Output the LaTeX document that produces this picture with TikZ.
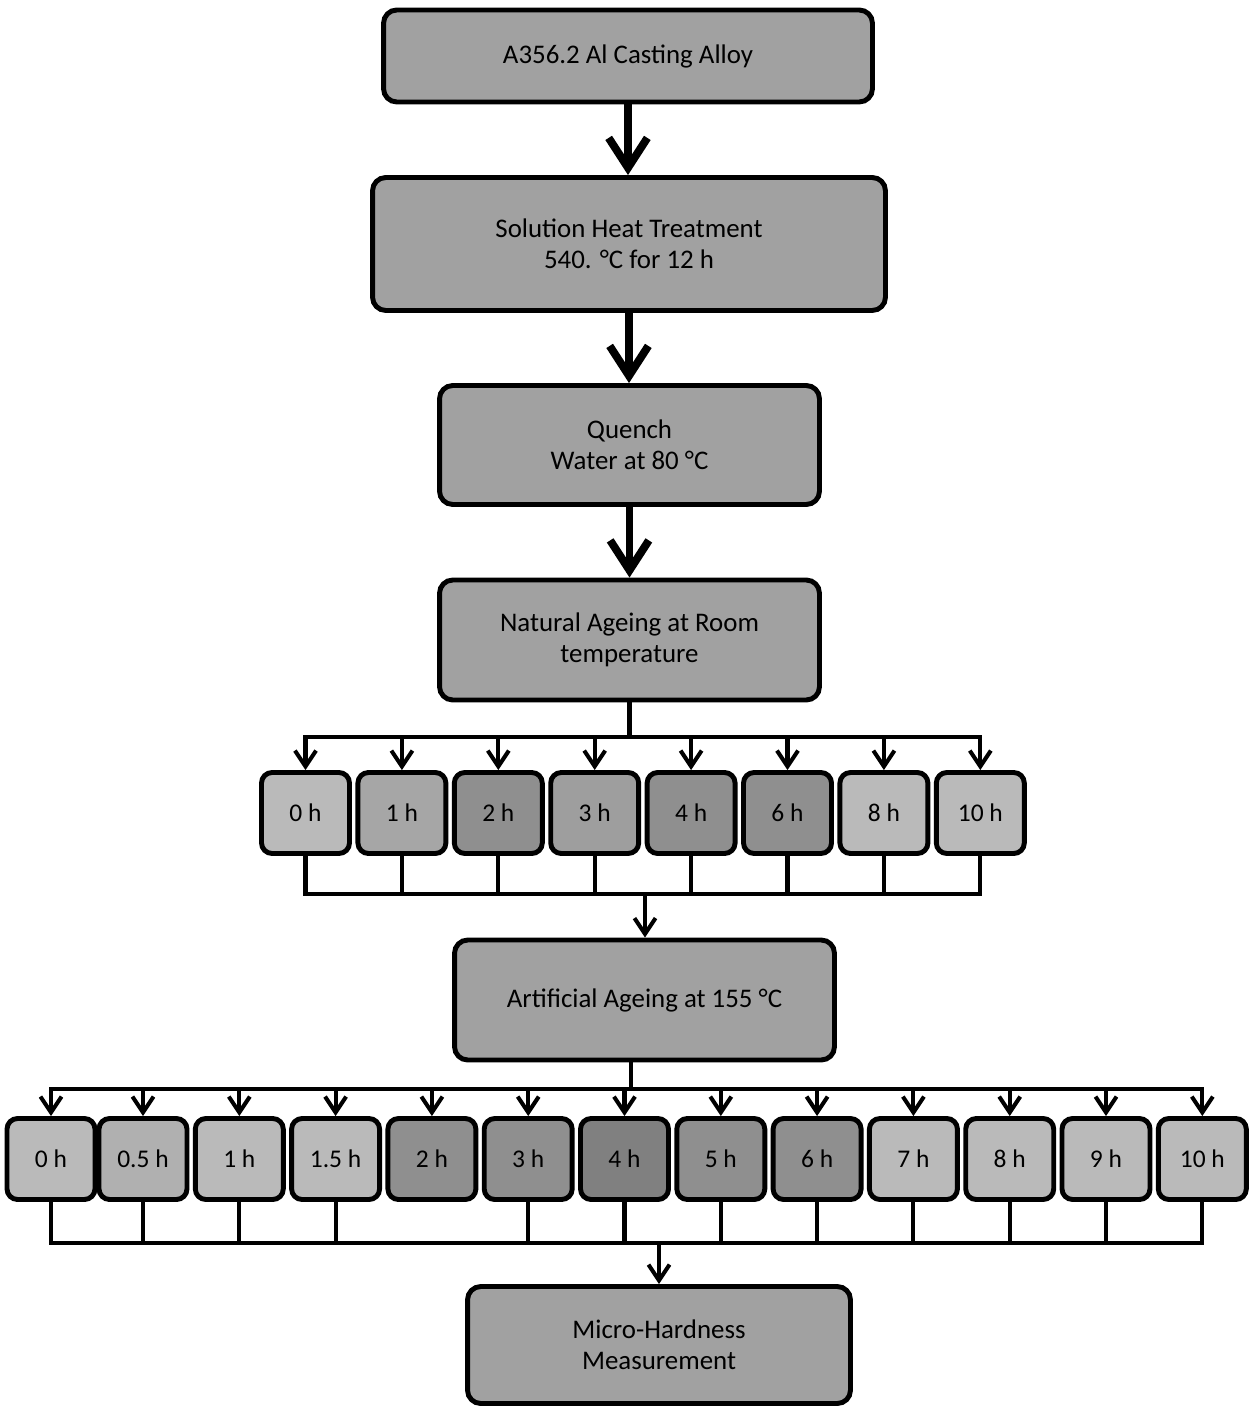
\documentclass[tikz,border=0pt]{standalone}
\usepackage{fontspec}
\setmainfont{Carlito}
\usetikzlibrary{arrows.meta}
\begin{document}
\begin{tikzpicture}[x=0.02cm, y=-0.02cm]
	\tikzstyle{stage}=[rectangle, rounded corners=7.5pt, draw=black, line width=2.8pt, fill=black!37, align=center, font=\fontsize{15.3}{17.6}\selectfont]
	\tikzstyle{light}=[stage, rounded corners=6pt, fill=black!27, minimum width=1.76cm, minimum height=1.62cm, font=\fontsize{14.5}{17}\selectfont]
	\tikzstyle{dark}=[light, fill=black!44]
	\tikzstyle{bigarrow}=[line width=4.5pt, -{Straight Barb[length=17pt, width=22pt]}]
	\tikzstyle{smallarrow}=[line width=2.3pt, -{Straight Barb[length=9pt, width=12pt]}]
	\tikzstyle{joint}=[line width=2.3pt, line cap=rect]
	\useasboundingbox (0, 0) rectangle (1256, 1408);

	% main process
	\draw node[stage, minimum width=9.78cm, minimum height=1.84cm] at (628, 56) (alloy) {A356.2 Al Casting Alloy};
	\draw node[stage, minimum width=10.26cm, minimum height=2.66cm] at (629, 244) (sht) {Solution Heat Treatment\\540. °C for 12 h};
	\draw node[stage, minimum width=7.6cm, minimum height=2.38cm] at (629.5, 445) (quench) {Quench\\Water at 80 °C};
	\draw node[stage, minimum width=7.6cm, minimum height=2.4cm] at (629.5, 640) (natural) {Natural Ageing at Room\\temperature};
	\draw node[stage, minimum width=7.6cm, minimum height=2.4cm] at (644.5, 1000) (artificial) {Artificial Ageing at 155 °C};
	\draw node[stage, minimum width=7.66cm, minimum height=2.34cm] at (659, 1345) (micro) {Micro-Hardness\\Measurement};

	\draw [bigarrow] (alloy.south) -- (alloy.south |- sht.north);
	\draw [bigarrow] (sht.south) -- (sht.south |- quench.north);
	\draw [bigarrow] (quench) -- (natural);

	% natural ageing times
	\draw node[light] at (305.5, 813) (na0) {0 h};
	\draw node[light, fill=black!35] at (401.9, 813) (na1) {1 h};
	\draw node[dark] at (498.3, 813) (na2) {2 h};
	\draw node[light, fill=black!38] at (594.7, 813) (na3) {3 h};
	\draw node[dark] at (691.1, 813) (na4) {4 h};
	\draw node[dark] at (787.5, 813) (na6) {6 h};
	\draw node[light] at (883.9, 813) (na8) {8 h};
	\draw node[light] at (980.3, 813) (na10) {10 h};

	\coordinate (split1) at (629.5, 737);
	\coordinate (merge1) at (645, 894);
	\draw [joint] (natural.south) -- (split1);
	\draw [joint] (split1 -| na0) -- (split1 -| na10);
	\draw [smallarrow] (split1 -| na0) -- (na0);
	\draw [smallarrow] (split1 -| na1) -- (na1);
	\draw [smallarrow] (split1 -| na2) -- (na2);
	\draw [smallarrow] (split1 -| na3) -- (na3);
	\draw [smallarrow] (split1 -| na4) -- (na4);
	\draw [smallarrow] (split1 -| na6) -- (na6);
	\draw [smallarrow] (split1 -| na8) -- (na8);
	\draw [smallarrow] (split1 -| na10) -- (na10);
	\draw [joint] (na0) -- (na0 |- merge1);
	\draw [joint] (na1) -- (na1 |- merge1);
	\draw [joint] (na2) -- (na2 |- merge1);
	\draw [joint] (na3) -- (na3 |- merge1);
	\draw [joint] (na4) -- (na4 |- merge1);
	\draw [joint] (na6) -- (na6 |- merge1);
	\draw [joint] (na8) -- (na8 |- merge1);
	\draw [joint] (na10) -- (na10 |- merge1);
	\draw [joint] (na0 |- merge1) -- (na10 |- merge1);
	\draw [smallarrow] (merge1) -- (merge1 |- artificial.north);

	% artificial ageing times
	\draw node[light] at (51, 1159) (aa0) {0 h};
	\draw node[light, fill=black!31] at (143, 1159) (aa05) {0.5 h};
	\draw node[light] at (239.3, 1159) (aa1) {1 h};
	\draw node[light] at (335.6, 1159) (aa15) {1.5 h};
	\draw node[dark] at (431.9, 1159) (aa2) {2 h};
	\draw node[dark] at (528.2, 1159) (aa3) {3 h};
	\draw node[dark, fill=black!50] at (624.5, 1159) (aa4) {4 h};
	\draw node[dark] at (720.8, 1159) (aa5) {5 h};
	\draw node[dark] at (817.1, 1159) (aa6) {6 h};
	\draw node[light] at (913.4, 1159) (aa7) {7 h};
	\draw node[light] at (1009.7, 1159) (aa8) {8 h};
	\draw node[light] at (1106, 1159) (aa9) {9 h};
	\draw node[light] at (1202.3, 1159) (aa10) {10 h};

	\coordinate (split2) at (631, 1089);
	\coordinate (merge2) at (659, 1243);
	\draw [joint] (split2 |- artificial.south) -- (split2);
	\draw [joint] (split2 -| aa0) -- (split2 -| aa10);
	\draw [smallarrow] (split2 -| aa0) -- (aa0);
	\draw [smallarrow] (split2 -| aa05) -- (aa05);
	\draw [smallarrow] (split2 -| aa1) -- (aa1);
	\draw [smallarrow] (split2 -| aa15) -- (aa15);
	\draw [smallarrow] (split2 -| aa2) -- (aa2);
	\draw [smallarrow] (split2 -| aa3) -- (aa3);
	\draw [smallarrow] (split2 -| aa4) -- (aa4);
	\draw [smallarrow] (split2 -| aa5) -- (aa5);
	\draw [smallarrow] (split2 -| aa6) -- (aa6);
	\draw [smallarrow] (split2 -| aa7) -- (aa7);
	\draw [smallarrow] (split2 -| aa8) -- (aa8);
	\draw [smallarrow] (split2 -| aa9) -- (aa9);
	\draw [smallarrow] (split2 -| aa10) -- (aa10);
	\draw [joint] (aa0) -- (aa0 |- merge2);
	\draw [joint] (aa05) -- (aa05 |- merge2);
	\draw [joint] (aa1) -- (aa1 |- merge2);
	\draw [joint] (aa15) -- (aa15 |- merge2);
	\draw [joint] (aa3) -- (aa3 |- merge2);
	\draw [joint] (aa4) -- (aa4 |- merge2);
	\draw [joint] (aa5) -- (aa5 |- merge2);
	\draw [joint] (aa6) -- (aa6 |- merge2);
	\draw [joint] (aa7) -- (aa7 |- merge2);
	\draw [joint] (aa8) -- (aa8 |- merge2);
	\draw [joint] (aa9) -- (aa9 |- merge2);
	\draw [joint] (aa10) -- (aa10 |- merge2);
	\draw [joint] (aa0 |- merge2) -- (aa10 |- merge2);
	\draw [smallarrow] (merge2) -- (micro);
\end{tikzpicture}
\end{document}
